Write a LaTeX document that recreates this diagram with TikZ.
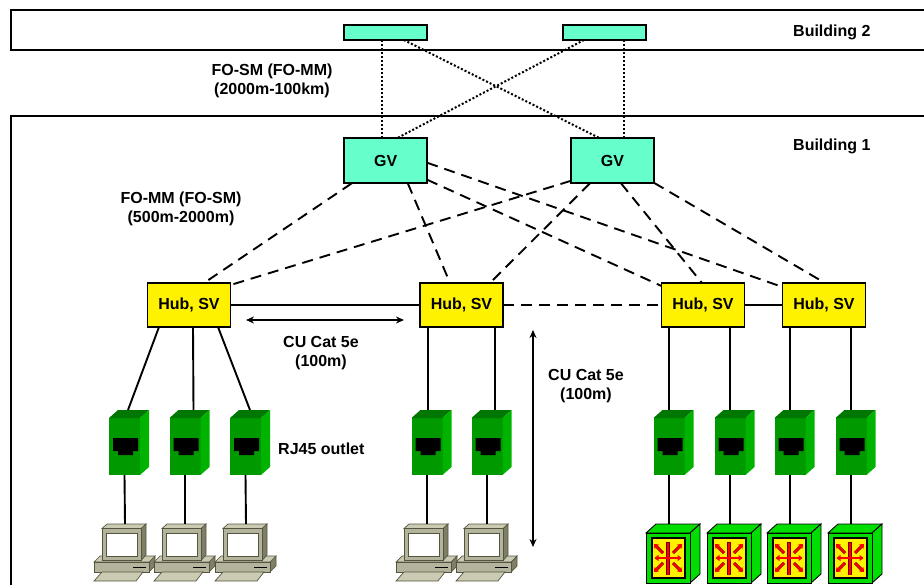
\documentclass[tikz,border=0pt]{standalone}
\usepackage{fontspec}
\setmainfont{Liberation Sans}
\usetikzlibrary{arrows.meta}
\definecolor{gvfill}{HTML}{66FFCC}
\definecolor{outfront}{HTML}{009900}
\definecolor{outtop}{HTML}{007700}
\definecolor{outside}{HTML}{00B300}
\definecolor{boxgreen}{HTML}{00DD00}
\definecolor{pcfront}{HTML}{B4B49C}
\definecolor{pctop}{HTML}{CBCBB4}
\definecolor{pcside}{HTML}{7F7F68}
\definecolor{pcedge}{HTML}{55553F}
\tikzset{
  label/.style={font=\fontsize{16}{19}\selectfont\bfseries,align=center,inner sep=0pt},
  building/.style={draw,line width=1.9pt,minimum width=1000pt,inner sep=0pt,outer sep=0pt},
  gvbox/.style={draw,line width=1.9pt,fill=gvfill,minimum width=83pt,inner sep=0pt,outer sep=0pt,font=\fontsize{16}{19}\selectfont\bfseries},
  hub/.style={draw,line width=1.9pt,fill=yellow,minimum width=83pt,minimum height=44pt,inner sep=0pt,outer sep=0pt,font=\fontsize{16}{19}\selectfont\bfseries},
  tp/.style={line width=1.9pt},
  fosm/.style={line width=2pt,dash pattern=on 2pt off 2pt},
  fomm/.style={line width=1.9pt,dash pattern=on 11pt off 7pt},
  span/.style={line width=1.7pt,<->,>={Stealth[length=8pt,width=7pt]}},
  rjoutlet/.pic={
    \fill[outfront] (0,0) rectangle (31,57);
    \fill[outtop] (0,0) -- (9,-8) -- (40,-8) -- (31,0) -- cycle;
    \fill[outside] (31,0) -- (40,-8) -- (40,49) -- (31,57) -- cycle;
    \fill[black] (4,20) -- (29,20) -- (29,33) -- (24,33) -- (24,37) -- (9,37) -- (9,33) -- (4,33) -- cycle;
    \coordinate (-top) at (15.5,-8);
    \coordinate (-bot) at (15.5,57);
  },
  pcstation/.pic={
    \draw[pcedge,line width=.7pt,fill=pcside] (24,38) -- (30,32) -- (30,42) -- (24,48) -- cycle;
    \draw[pcedge,line width=.7pt,fill=pctop] (-31,38) -- (-25,32) -- (30,32) -- (24,38) -- cycle;
    \draw[pcedge,line width=.7pt,fill=pcfront] (-31,38) rectangle (24,48);
    \draw[black,line width=1pt] (8,43) -- (21,43);
    \draw[pcedge,line width=.7pt,fill=pctop] (-23,48) -- (18,48) -- (11,57) -- (-31,57) -- cycle;
    \draw[pcedge,line width=.7pt,fill=pcside] (16,4.5) -- (21,0) -- (21,31) -- (16,36.5) -- cycle;
    \draw[pcedge,line width=.7pt,fill=pctop] (-23,4.5) -- (-18,0) -- (21,0) -- (16,4.5) -- cycle;
    \draw[pcedge,line width=.7pt,fill=pcfront] (-23,4.5) rectangle (16,36.5);
    \draw[pcedge,line width=.7pt,fill=white] (-19,9) rectangle (12,32.5);
    \coordinate (-top) at (0,0);
  },
  srvbox/.pic={
    \draw[line width=.9pt,fill=boxgreen] (0,0) -- (10,-9) -- (54,-9) -- (44,0) -- cycle;
    \draw[line width=.9pt,fill=boxgreen] (44,0) -- (54,-9) -- (54,41) -- (44,50) -- cycle;
    \draw[line width=.9pt,fill=boxgreen] (0,0) rectangle (44,50);
    \draw[line width=1.1pt,fill=yellow] (6,5) rectangle (39,45);
    \draw[red!45!black,line width=3.4pt] (22,9) -- (22,42);
    \draw[red,line width=2.2pt] (22,9.5) -- (22,41.5);
    \draw[red!45!black,line width=2.6pt] (9,25) -- (35,25);
    \draw[red,line width=1.6pt,{Triangle[length=4pt,width=6pt]}-{Triangle[length=4pt,width=6pt]}] (8.5,25) -- (35.5,25);
    \draw[red!45!black,line width=3pt] (27,20) -- (35,12);
    \draw[red,line width=1.8pt,-{Triangle[length=4pt,width=6pt]}] (27,20) -- (36,11);
    \draw[red!45!black,line width=3pt] (17,20) -- (9,12);
    \draw[red,line width=1.8pt,-{Triangle[length=4pt,width=6pt]}] (17,20) -- (8,11);
    \draw[red!45!black,line width=3pt] (27,30) -- (35,38);
    \draw[red,line width=1.8pt,-{Triangle[length=4pt,width=6pt]}] (27,30) -- (36,39);
    \draw[red!45!black,line width=3pt] (17,30) -- (9,38);
    \draw[red,line width=1.8pt,-{Triangle[length=4pt,width=6pt]}] (17,30) -- (8,39);
    \coordinate (-top) at (23,-9);
  }
}
\begin{document}
\begin{tikzpicture}[x=1pt,y=-1pt]
      \clip (0,0) rectangle (924,585);
      \node[building,minimum height=40pt] (b2) at (511,30.3) {};
      \node[building,minimum height=600pt] (b1) at (511,415.7) {};
      \node[gvbox,minimum height=15pt] (bdA) at (385.8,32.5) {};
      \node[gvbox,minimum height=15pt] (bdB) at (604.7,32.5) {};
      \node[gvbox,minimum height=45pt] (gvA) at (385.8,160.8) {GV};
      \node[gvbox,minimum height=45pt] (gvB) at (612.5,160.8) {GV};
      \node[hub] (h1) at (189,305) {Hub, SV};
      \node[hub] (h2) at (461.5,305) {Hub, SV};
      \node[hub] (h3) at (703,305) {Hub, SV};
      \node[hub] (h4) at (824,305) {Hub, SV};
      \node[label,anchor=west] (lb2) at (793,32) {Building 2};
      \node[label,anchor=west] (lb1) at (793,146) {Building 1};
      \node[label] (lsm) at (272,81) {FO-SM (FO-MM)\\(2000m-100km)};
      \node[label] (lmm) at (181,208.5) {FO-MM (FO-SM)\\(500m-2000m)};
      \node[label] (lcu) at (321,353) {CU Cat 5e\\(100m)};
      \node[label] (lcv) at (586,386.5) {CU Cat 5e\\(100m)};
      \node[label,anchor=west] (lrj) at (278,449) {RJ45 outlet};
      \pic (o1) at (109,418) {rjoutlet};
      \pic (o2) at (169.5,418) {rjoutlet};
      \pic (o3) at (230,418) {rjoutlet};
      \pic (o4) at (411.5,418) {rjoutlet};
      \pic (o5) at (471.5,418) {rjoutlet};
      \pic (o6) at (653.5,418) {rjoutlet};
      \pic (o7) at (714.5,418) {rjoutlet};
      \pic (o8) at (774.5,418) {rjoutlet};
      \pic (o9) at (835.5,418) {rjoutlet};
      \pic (pc1) at (125,524) {pcstation};
      \pic (pc2) at (185,524) {pcstation};
      \pic (pc3) at (246,524) {pcstation};
      \pic (pc4) at (427,524) {pcstation};
      \pic (pc5) at (487,524) {pcstation};
      \pic (sv1) at (646,533) {srvbox};
      \pic (sv2) at (707,533) {srvbox};
      \pic (sv3) at (767,533) {srvbox};
      \pic (sv4) at (828,533) {srvbox};
      \coordinate (cuL) at (246,320);
      \coordinate (cuR) at (404,320);
      \coordinate (cvT) at (533,330);
      \coordinate (cvB) at (533,547);
      \begin{scope}[fosm]
        \draw ([xshift=-3.8pt]bdA.south) to ([xshift=-3.8pt]gvA.north);
        \draw ([xshift=18pt]bdA.south) to ([xshift=-12.5pt]gvB.north);
        \draw ([xshift=-20.7pt]bdB.south) to ([xshift=11pt]gvA.north);
        \draw ([xshift=19.3pt]bdB.south) to ([xshift=11.5pt]gvB.north);
      \end{scope}
      \begin{scope}[fomm]
        \draw ([xshift=-34pt]gvA.south) to ([xshift=15pt]h1.north);
        \draw ([xshift=22pt]gvA.south) to ([xshift=-11.5pt]h2.north);
        \draw ([yshift=-2pt]gvA.east) to ([yshift=18pt]h4.west);
        \draw ([yshift=-19pt]gvA.east) to ([yshift=19pt]h3.west);
        \draw ([yshift=-20pt]gvB.west) to ([yshift=20pt]h1.east);
        \draw ([xshift=-22.5pt]gvB.south) to ([xshift=28.5pt]h2.north);
        \draw ([xshift=8.5pt]gvB.south) to ([xshift=-1pt]h3.north);
        \draw ([yshift=-22pt]gvB.east) to ([xshift=1pt]h4.north);
        \draw (h2) to (h3);
      \end{scope}
      \begin{scope}[tp]
        \draw (h1) to (h2);
        \draw (h3) to (h4);
        \draw ([xshift=-30pt]h1.south) to ([xshift=3.5pt]o1-top);
        \draw ([xshift=4pt]h1.south) to ([xshift=8.5pt]o2-top);
        \draw ([xshift=29pt]h1.south) to ([xshift=4.5pt]o3-top);
        \draw ([xshift=-33.5pt]h2.south) to ([xshift=1pt]o4-top);
        \draw ([xshift=33.5pt]h2.south) to ([xshift=8pt]o5-top);
        \draw ([xshift=-34pt]h3.south) to (o6-top);
        \draw ([xshift=27pt]h3.south) to (o7-top);
        \draw ([xshift=-34pt]h4.south) to (o8-top);
        \draw ([xshift=27pt]h4.south) to (o9-top);
        \draw (o1-bot) to (pc1-top);
        \draw (o2-bot) to (pc2-top);
        \draw (o3-bot) to (pc3-top);
        \draw (o4-bot) to (pc4-top);
        \draw (o5-bot) to (pc5-top);
        \draw (o6-bot) to (sv1-top);
        \draw (o7-bot) to (sv2-top);
        \draw (o8-bot) to (sv3-top);
        \draw (o9-bot) to (sv4-top);
      \end{scope}
      \draw[span] (cuL) to (cuR);
      \draw[span] (cvT) to (cvB);
    \end{tikzpicture}
\end{document}
